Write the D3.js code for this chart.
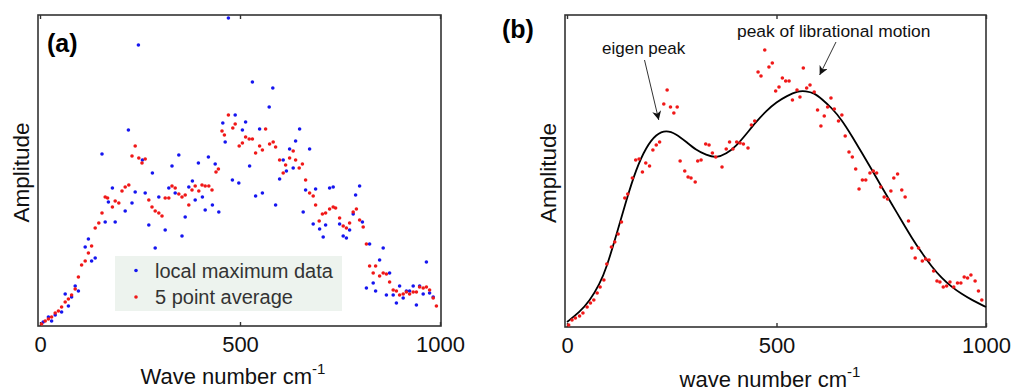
<!DOCTYPE html>
<html>
<head>
<meta charset="utf-8">
<script src="https://cdn.jsdelivr.net/npm/d3@7"></script>
<style>
  html, body { margin: 0; padding: 0; background: #fff; }
  svg { display: block; font-family: "Liberation Sans", Arial, sans-serif; }
</style>
</head>
<body>
<svg id="chart" width="1017" height="392"></svg>
<script>
// ---------------- DATA ----------------
const xTicks = [0, 500, 1000];
const xTickLabels = ["0", "500", "1000"];
const legendLabels = ["local maximum data", "5 point average"];
const panelTitles = ["(a)", "(b)"];
const yLabel = "Amplitude";
const xLabelA = "Wave number cm";
const xLabelB = "wave number cm";
const annotations = ["eigen peak", "peak of librational motion"];

// Panel (a): local maximum data [wave number, amplitude (a.u.)]
const localMaxA = [
  [8,0.04],[21,0.09],[29,0.05],[38,0.11],[54,0.14],[63,0.32],[71,0.20],[79,0.29],[88,0.40],[96,0.35],
  [113,0.79],[121,0.87],[129,0.65],[138,0.68],[155,1.72],[163,1.04],[171,1.24],[181,1.38],[188,1.04],
  [213,1.15],[221,1.96],[230,1.23],[238,1.34],[246,2.81],[256,1.66],[263,1.33],[272,1.01],[281,1.53],
  [288,0.78],[297,1.29],[313,0.96],[322,1.38],[330,1.60],[338,1.33],[347,1.71],[355,0.90],[363,1.09],
  [372,1.39],[381,1.45],[388,1.26],[396,1.63],[406,1.29],[413,1.16],[421,1.69],[431,1.21],[438,1.62],
  [447,1.14],[457,2.03],[463,1.84],[471,3.08],[481,1.46],[488,2.11],[497,1.43],[506,1.96],[514,2.04],
  [524,1.60],[531,2.44],[539,1.30],[549,1.97],[556,1.33],[573,2.19],[582,2.38],[589,1.21],[599,1.47],
  [608,1.66],[616,1.55],[624,1.77],[633,1.58],[639,1.85],[649,1.97],[658,1.14],[664,1.36],[674,1.77],
  [683,1.02],[689,1.37],[699,0.97],[708,0.89],[714,1.01],[724,1.38],[733,1.39],[749,1.02],[758,0.90],
  [766,0.88],[774,0.96],[783,1.12],[789,1.31],[799,1.40],[806,1.04],[816,0.38],[824,0.82],[833,0.43],
  [839,0.35],[849,0.66],[858,0.78],[866,0.31],[874,0.53],[883,0.31],[891,0.23],[899,0.40],[908,0.28],
  [916,0.35],[924,0.35],[933,0.40],[941,0.21],[949,0.40],[958,0.32],[966,0.64],[974,0.33],[983,0.29]
];

// Panel (a): 5 point average
const avgA = [
  [4,0.02],[13,0.05],[21,0.07],[29,0.09],[38,0.13],[46,0.15],[54,0.19],[63,0.24],[71,0.27],[79,0.31],
  [88,0.37],[96,0.49],[104,0.61],[113,0.65],[121,0.73],[129,0.80],[138,0.98],[147,1.03],[155,1.13],
  [163,1.29],[169,1.28],[181,1.19],[188,1.25],[197,1.23],[205,1.35],[213,1.39],[222,1.41],[230,1.70],
  [238,1.80],[247,1.68],[255,1.63],[263,1.67],[272,1.26],[280,1.19],[288,1.15],[297,1.13],[305,1.10],
  [313,1.28],[322,1.28],[330,1.40],[338,1.38],[347,1.32],[355,1.29],[363,1.31],[372,1.21],[380,1.36],
  [388,1.40],[397,1.35],[405,1.41],[413,1.40],[422,1.40],[430,1.36],[440,1.54],[446,1.57],[455,1.95],
  [461,1.91],[471,2.11],[482,1.98],[488,2.02],[498,1.80],[506,1.83],[514,1.89],[523,1.87],[531,1.87],
  [539,1.73],[549,1.80],[556,1.76],[564,1.97],[574,1.82],[583,1.84],[589,1.79],[599,1.66],[608,1.53],
  [614,1.61],[624,1.68],[633,1.75],[639,1.66],[648,1.58],[656,1.62],[664,1.46],[674,1.33],[683,1.30],
  [689,1.21],[698,1.05],[706,1.12],[714,1.13],[724,1.17],[733,1.19],[739,1.18],[749,1.08],[758,1.00],
  [766,0.98],[774,1.03],[783,1.14],[791,1.17],[799,1.06],[808,0.99],[816,0.82],[824,0.60],[833,0.53],
  [839,0.60],[849,0.50],[858,0.53],[866,0.52],[874,0.44],[883,0.36],[891,0.35],[899,0.31],[908,0.32],
  [916,0.34],[924,0.32],[933,0.34],[941,0.34],[949,0.39],[958,0.38],[966,0.39],[974,0.36],[983,0.28],
  [991,0.20]
];

// Panel (b): averaged points
const pointsB = [
  [4,0.02],[12,0.07],[20,0.09],[30,0.11],[38,0.14],[48,0.20],[56,0.24],[64,0.27],[72,0.34],[79,0.40],
  [88,0.47],[95,0.63],[106,0.80],[114,0.85],[122,0.93],[130,1.05],[138,1.29],[145,1.33],[156,1.49],
  [164,1.67],[172,1.68],[180,1.55],[188,1.64],[197,1.61],[205,1.77],[213,1.82],[221,1.85],[231,2.23],
  [239,2.37],[247,2.20],[255,2.14],[263,2.20],[270,1.66],[281,1.56],[289,1.50],[296,1.49],[306,1.45],
  [312,1.66],[320,1.67],[331,1.83],[339,1.82],[347,1.74],[355,1.70],[370,1.60],[380,1.78],[388,1.85],
  [396,1.78],[405,1.85],[413,1.84],[421,1.83],[432,1.79],[440,2.02],[448,2.06],[456,2.55],[463,2.51],
  [472,2.77],[482,2.60],[490,2.64],[498,2.36],[506,2.40],[514,2.49],[522,2.46],[530,2.46],[538,2.27],
  [549,2.37],[556,2.30],[564,2.59],[572,2.39],[580,2.42],[590,2.35],[598,2.17],[606,2.01],[614,2.11],
  [622,2.20],[630,2.29],[638,2.18],[648,2.06],[656,2.12],[664,1.91],[673,1.75],[681,1.70],[689,1.58],
  [697,1.38],[705,1.47],[713,1.47],[723,1.54],[731,1.56],[739,1.54],[749,1.40],[757,1.30],[765,1.28],
  [773,1.36],[780,1.49],[789,1.53],[799,1.37],[807,1.30],[815,1.06],[823,0.79],[831,0.69],[839,0.79],
  [848,0.66],[856,0.68],[864,0.67],[875,0.56],[883,0.46],[890,0.45],[898,0.40],[906,0.41],[914,0.45],
  [923,0.40],[932,0.44],[940,0.44],[948,0.50],[956,0.49],[964,0.52],[974,0.46],[982,0.36],[990,0.27]
];

// Panel (b): fitted curve
const fitB = [
  [0,0.05],[30,0.15],[54,0.26],[78,0.43],[94,0.59],[118,0.92],[141,1.26],[165,1.58],[189,1.80],
  [213,1.93],[237,1.97],[261,1.93],[285,1.85],[308,1.77],[332,1.72],[356,1.69],[380,1.73],[404,1.81],
  [428,1.93],[451,2.05],[475,2.16],[500,2.25],[525,2.31],[550,2.36],[570,2.36],[590,2.34],[608,2.28],
  [632,2.19],[656,2.07],[680,1.91],[704,1.74],[728,1.57],[751,1.40],[775,1.23],[799,1.06],[823,0.89],
  [847,0.74],[871,0.60],[894,0.49],[918,0.40],[942,0.33],[966,0.27],[1000,0.20]
];

// annotation arrows [start (wave, amp), tip (wave, amp)]
const eigenArrow = [[185, 2.67], [219, 2.07]];
const libArrow   = [[642, 2.85], [603, 2.52]];

// ---------------- LAYOUT ----------------
const svg = d3.select("#chart");
const blue = "#1515f0", red = "#f01818", frameCol = "#333";

const panels = [
  {left: 38, right: 441, top: 15, bottom: 326, x0: 40, x1: 440, yMax: 3.11},
  {left: 565, right: 986, top: 15, bottom: 327, x0: 567, x1: 986, yMax: 3.12}
];

function setupPanel(p, idx, xLabel, xLabelCenter, xLabelBaseline, yLabelX, titleX, titleY) {
  const x = d3.scaleLinear().domain([0, 1000]).range([p.x0, p.x1]);
  const y = d3.scaleLinear().domain([0, p.yMax]).range([p.bottom, p.top]);
  const g = svg.append("g");
  g.append("rect").attr("x", p.left).attr("y", p.top)
    .attr("width", p.right - p.left).attr("height", p.bottom - p.top)
    .attr("fill", "none").attr("stroke", frameCol).attr("stroke-width", 1.6);
  const ax = g.append("g").attr("transform", `translate(0,${p.bottom})`)
    .call(d3.axisBottom(x).tickValues(xTicks).tickFormat((d, i) => xTickLabels[i]).tickSize(-4));
  ax.select(".domain").remove();
  ax.selectAll("line").attr("stroke", frameCol).attr("stroke-width", 1.4);
  ax.selectAll("text").attr("dy", null).attr("y", 26).attr("font-size", 22)
    .attr("fill", "#111").attr("font-family", "Liberation Sans, Arial, sans-serif");
  const at = g.append("g").attr("transform", `translate(0,${p.top})`)
    .call(d3.axisTop(x).tickValues(xTicks).tickFormat("").tickSize(-4));
  at.select(".domain").remove();
  at.selectAll("line").attr("stroke", frameCol).attr("stroke-width", 1.4);
  const xl = g.append("text").attr("x", xLabelCenter).attr("y", xLabelBaseline)
    .attr("text-anchor", "middle").attr("font-size", 22).attr("fill", "#111");
  xl.append("tspan").text(xLabel);
  xl.append("tspan").attr("font-size", 15).attr("dy", -10).text("-1");
  g.append("text").attr("transform", `translate(${yLabelX},${(p.top + p.bottom) / 2 + 2}) rotate(-90)`)
    .attr("text-anchor", "middle").attr("font-size", 22.5).attr("fill", "#111").text(yLabel);
  g.append("text").attr("x", titleX).attr("y", titleY).attr("font-size", 25)
    .attr("font-weight", "bold").attr("fill", "#000").text(panelTitles[idx]);
  return {x, y, g};
}

// ---------------- PANEL (a) ----------------
const A = setupPanel(panels[0], 0, xLabelA, 233, 384, 29, 47, 52);
function dots(P, data, col) {
  P.g.append("g").selectAll("circle").data(data).join("circle")
    .attr("cx", d => P.x(d[0])).attr("cy", d => P.y(d[1])).attr("r", 1.8).attr("fill", col);
}
dots(A, localMaxA, blue);
dots(A, avgA, red);

const lg = A.g.append("g");
lg.append("rect").attr("x", 115).attr("y", 256).attr("width", 227).attr("height", 55).attr("fill", "#edf3ee");
[blue, red].forEach((c, i) => {
  lg.append("circle").attr("cx", 136).attr("cy", 270.5 + i * 26.5).attr("r", 1.8).attr("fill", c);
  lg.append("text").attr("x", 155).attr("y", 277.5 + i * 26.5).attr("font-size", 20)
    .attr("fill", "#333").text(legendLabels[i]);
});

// ---------------- PANEL (b) ----------------
const B = setupPanel(panels[1], 1, xLabelB, 770, 387, 556, 502, 38);
B.g.append("path").datum(fitB)
  .attr("d", d3.line().x(d => B.x(d[0])).y(d => B.y(d[1])).curve(d3.curveBasis))
  .attr("fill", "none").attr("stroke", "#000").attr("stroke-width", 1.8);
dots(B, pointsB, red);

const defs = svg.append("defs");
defs.append("marker").attr("id", "ah").attr("viewBox", "0 0 10 10").attr("refX", 10).attr("refY", 5)
  .attr("markerWidth", 9).attr("markerHeight", 9).attr("orient", "auto").attr("markerUnits", "userSpaceOnUse")
  .append("path").attr("d", "M0,0 L10,5 L0,10 L3,5 Z").attr("fill", "#111");
[eigenArrow, libArrow].forEach(a => {
  B.g.append("line").attr("x1", B.x(a[0][0])).attr("y1", B.y(a[0][1]))
    .attr("x2", B.x(a[1][0])).attr("y2", B.y(a[1][1]))
    .attr("stroke", "#333").attr("stroke-width", 1).attr("marker-end", "url(#ah)");
});
B.g.append("text").attr("x", 602).attr("y", 53.5).attr("font-size", 17).attr("fill", "#111").text(annotations[0]);
B.g.append("text").attr("x", 737).attr("y", 37).attr("font-size", 17.4).attr("fill", "#111").text(annotations[1]);
</script>
</body>
</html>
